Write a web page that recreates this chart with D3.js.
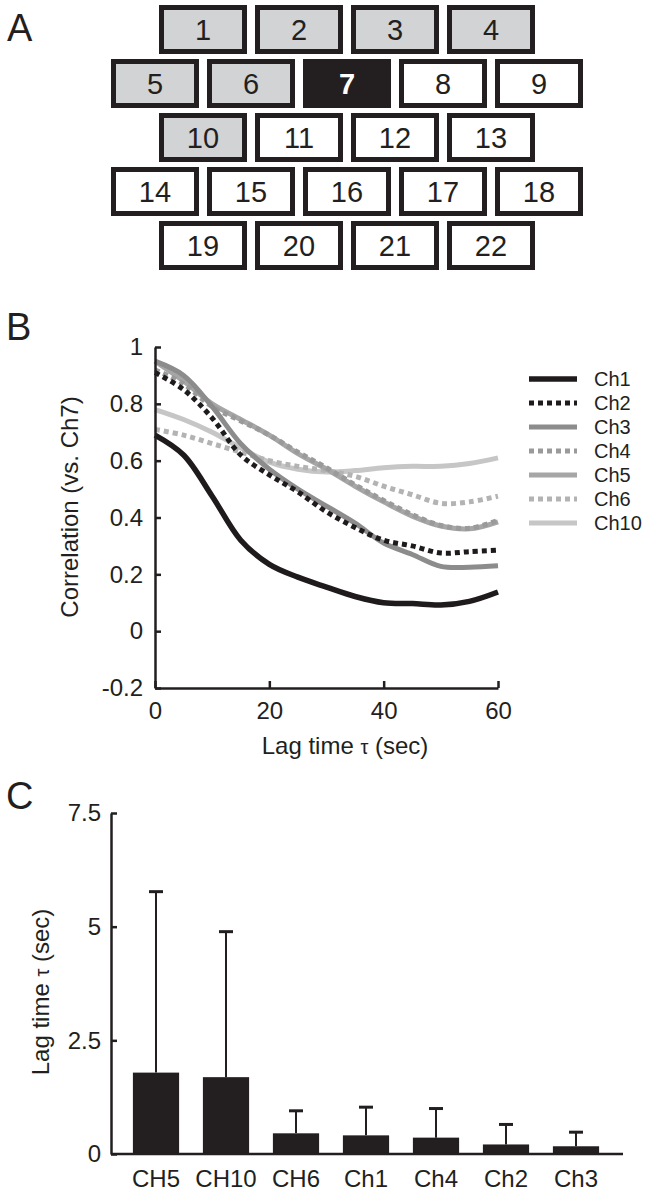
<!DOCTYPE html>
<html lang="en">
<head>
<meta charset="utf-8">
<title>Channel correlation</title>
<style>
body { margin: 0; background: #fff; }
svg { display: block; font-family: "Liberation Sans", Arial, sans-serif; }
.axis path, .axis line { stroke: #231f20; stroke-width: 2.5; fill: none; }
.axis text { font-size: 24px; fill: #231f20; }
.panel { font-size: 38px; fill: #231f20; }
.title { font-size: 24px; fill: #231f20; }
.legend { font-size: 20px; fill: #231f20; }
</style>
</head>
<body>
<script src="https://cdnjs.cloudflare.com/ajax/libs/d3/7.8.5/d3.min.js"></script>
<script>

// ---- data ----
// panel A: electrode layout, rows of channel numbers
var boxRows = [[1, 2, 3, 4], [5, 6, 7, 8, 9], [10, 11, 12, 13], [14, 15, 16, 17, 18], [19, 20, 21, 22]];
var grayChannels = [1, 2, 3, 4, 5, 6, 10];
var seedChannel = 7;

// panel B: correlation vs lag time
var lagTimes = [0, 5, 10, 15, 20, 25, 30, 35, 40, 45, 50, 55, 60];
var ch1  = [0.69, 0.62, 0.475, 0.32, 0.235, 0.19, 0.155, 0.122, 0.10, 0.097, 0.092, 0.105, 0.138];
var ch2  = [0.91, 0.85, 0.75, 0.62, 0.55, 0.49, 0.42, 0.365, 0.32, 0.30, 0.275, 0.28, 0.285];
var ch3  = [0.95, 0.90, 0.79, 0.66, 0.57, 0.50, 0.44, 0.38, 0.31, 0.27, 0.228, 0.225, 0.23];
var ch4  = [0.92, 0.87, 0.79, 0.74, 0.69, 0.63, 0.575, 0.515, 0.46, 0.41, 0.372, 0.362, 0.39];
var ch5  = [0.95, 0.88, 0.80, 0.745, 0.69, 0.625, 0.57, 0.51, 0.455, 0.405, 0.37, 0.36, 0.385];
var ch6  = [0.71, 0.69, 0.66, 0.63, 0.60, 0.58, 0.565, 0.545, 0.51, 0.48, 0.45, 0.455, 0.475];
var ch10 = [0.78, 0.745, 0.70, 0.645, 0.595, 0.57, 0.56, 0.565, 0.575, 0.58, 0.58, 0.59, 0.61];
var seriesNames = ["Ch1", "Ch2", "Ch3", "Ch4", "Ch5", "Ch6", "Ch10"];
var seriesValues = [ch1, ch2, ch3, ch4, ch5, ch6, ch10];
var corrTicks = [-0.2, 0, 0.2, 0.4, 0.6, 0.8, 1];
var lagTicks = [0, 20, 40, 60];

// panel C: lag time per channel
var barNames = ["CH5", "CH10", "CH6", "Ch1", "Ch4", "Ch2", "Ch3"];
var barMeans = [1.79, 1.69, 0.455, 0.41, 0.36, 0.21, 0.17];
var barErrors = [3.98, 3.20, 0.495, 0.62, 0.64, 0.44, 0.31];
var lagTauTicks = [0, 2.5, 5, 7.5];

// ---- styles per series ----
var lineColor = { Ch1: "#1f1b1c", Ch2: "#1f1b1c", Ch3: "#8c8c8c", Ch4: "#9a9a9a", Ch5: "#a6a6a6", Ch6: "#b3b3b3", Ch10: "#c6c6c6" };
var lineDash = { Ch1: null, Ch2: "5,4", Ch3: null, Ch4: "5,4", Ch5: null, Ch6: "5,4", Ch10: null };
var lineWidth = { Ch1: 5.5, Ch2: 5, Ch3: 5, Ch4: 5, Ch5: 5, Ch6: 5, Ch10: 5 };

var svg = d3.select("body").append("svg")
    .attr("width", 649)
    .attr("height", 1192);

// ================= A =================
svg.append("text").attr("class", "panel").attr("x", 7).attr("y", 41).text("A");

var colX = d3.scaleLinear().domain([0, 4]).range([111, 495]);
var rowY = d3.scaleLinear().domain([0, 4]).range([5, 221]);
var boxW = 88, boxH = 49, border = 5;

boxRows.forEach(function(row, r) {
    var shift = row.length == 4 ? 0.5 : 0;
    row.forEach(function(ch, c) {
        var x0 = colX(c + shift), y0 = rowY(r);
        var fill = ch == seedChannel ? "#231f20" : (grayChannels.indexOf(ch) >= 0 ? "#d1d3d4" : "#fff");
        svg.append("rect")
            .attr("x", x0 + border / 2)
            .attr("y", y0 + border / 2)
            .attr("width", boxW - border)
            .attr("height", boxH - border)
            .style("fill", fill)
            .style("stroke", "#231f20")
            .style("stroke-width", border);
        svg.append("text")
            .attr("x", x0 + boxW / 2)
            .attr("y", y0 + boxH / 2)
            .attr("dy", "0.36em")
            .attr("text-anchor", "middle")
            .style("font-size", "29px")
            .style("font-weight", ch == seedChannel ? "bold" : "normal")
            .style("fill", ch == seedChannel ? "#fff" : "#231f20")
            .text(ch);
    });
});

// ================= B =================
svg.append("text").attr("class", "panel").attr("x", 6).attr("y", 340).text("B");

var x = d3.scaleLinear().domain([0, 60]).range([155, 498]);
var y = d3.scaleLinear().domain([-0.2, 1]).range([688, 347]);

var corrLine = d3.line()
    .x(function(d) { return x(d[0]); })
    .y(function(d) { return y(d[1]); })
    .curve(d3.curveCatmullRom);

// draw lightest first so Ch1 ends up on top
for (var i = seriesNames.length - 1; i >= 0; i--) {
    var name = seriesNames[i];
    var pts = lagTimes.map(function(t, j) { return [t, seriesValues[i][j]]; });
    svg.append("path")
        .attr("d", corrLine(pts))
        .style("fill", "none")
        .style("stroke", lineColor[name])
        .style("stroke-width", lineWidth[name])
        .style("stroke-dasharray", lineDash[name]);
}

svg.append("g")
    .attr("class", "axis")
    .attr("transform", "translate(0,688)")
    .call(d3.axisBottom(x).tickValues(lagTicks).tickSizeInner(-7).tickSizeOuter(0).tickPadding(14));

svg.append("g")
    .attr("class", "axis")
    .attr("transform", "translate(155,0)")
    .call(d3.axisLeft(y).tickValues(corrTicks).tickSizeInner(-6).tickSizeOuter(0).tickPadding(12)
        .tickFormat(function(d) { return String(Math.round(d * 10) / 10); }));

svg.append("text")
    .attr("class", "title")
    .attr("transform", "translate(78,507) rotate(-90)")
    .attr("text-anchor", "middle")
    .text("Correlation (vs. Ch7)");

var xt = svg.append("text")
    .attr("class", "title")
    .attr("x", 345)
    .attr("y", 754)
    .attr("text-anchor", "middle");
xt.append("tspan").text("Lag time  ");
xt.append("tspan").style("font-size", "20px").text("τ");
xt.append("tspan").text(" (sec)");

// legend
var legY = d3.scalePoint().domain(seriesNames).range([379, 523]);
seriesNames.forEach(function(name) {
    svg.append("line")
        .attr("x1", 529).attr("x2", 577)
        .attr("y1", legY(name)).attr("y2", legY(name))
        .style("stroke", lineColor[name])
        .style("stroke-width", lineWidth[name])
        .style("stroke-dasharray", lineDash[name]);
    svg.append("text")
        .attr("class", "legend")
        .attr("x", 594)
        .attr("y", legY(name))
        .attr("dy", "0.36em")
        .text(name);
});

// ================= C =================
svg.append("text").attr("class", "panel").attr("x", 6).attr("y", 809).text("C");

var xb = d3.scaleBand().domain(barNames).range([121, 611]).paddingInner(0.34).paddingOuter(0.17);
var yb = d3.scaleLinear().domain([0, 7.5]).range([1154, 813]);

barNames.forEach(function(name, i) {
    var cx = xb(name) + xb.bandwidth() / 2;
    var top = yb(barMeans[i] + barErrors[i]);
    svg.append("line")
        .attr("x1", cx).attr("x2", cx)
        .attr("y1", yb(barMeans[i])).attr("y2", top)
        .style("stroke", "#231f20").style("stroke-width", 2);
    svg.append("line")
        .attr("x1", cx - 7).attr("x2", cx + 7)
        .attr("y1", top).attr("y2", top)
        .style("stroke", "#231f20").style("stroke-width", 3);
    svg.append("rect")
        .attr("x", xb(name))
        .attr("y", yb(barMeans[i]))
        .attr("width", xb.bandwidth())
        .attr("height", yb(0) - yb(barMeans[i]))
        .style("fill", "#231f20");
});

svg.append("g")
    .attr("class", "axis")
    .attr("transform", "translate(0,1154)")
    .call(function(g) {
        g.call(d3.axisBottom(xb).tickSize(0).tickPadding(16));
        g.select(".domain").attr("d", "M111,0H623");
    });

svg.append("g")
    .attr("class", "axis")
    .attr("transform", "translate(111,0)")
    .call(d3.axisLeft(yb).tickValues(lagTauTicks).tickSizeInner(-6).tickSizeOuter(0).tickPadding(10)
        .tickFormat(function(d) { return String(d); }));

var yt = svg.append("text")
    .attr("class", "title")
    .attr("transform", "translate(49,992) rotate(-90)")
    .attr("text-anchor", "middle");
yt.append("tspan").text("Lag time  ");
yt.append("tspan").style("font-size", "20px").text("τ");
yt.append("tspan").text(" (sec)");

</script>
</body>
</html>
